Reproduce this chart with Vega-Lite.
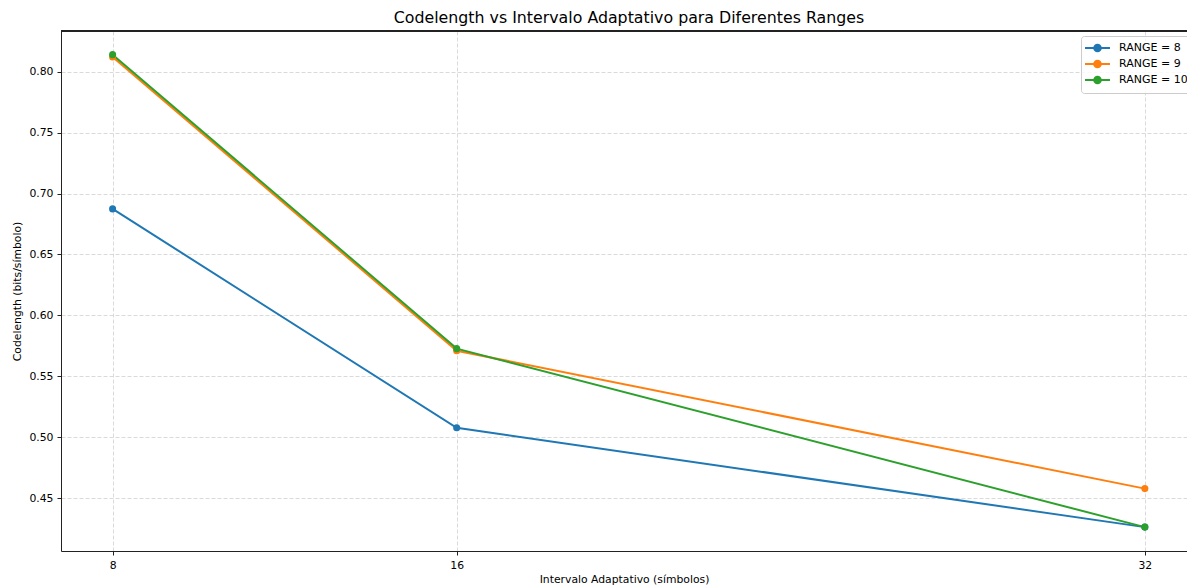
{
  "$schema": "https://vega.github.io/schema/vega-lite/v6.json",
  "autosize": {"type": "none"},
  "padding": {"left": 61, "top": 31, "right": 0, "bottom": 34},
  "width": 1126,
  "height": 520,
  "background": "white",
  "config": {
    "font": "DejaVu Sans",
    "view": {"stroke": null},
    "axis": {
      "labelFont": "DejaVu Sans",
      "titleFont": "DejaVu Sans",
      "labelFontSize": 10.8,
      "titleFontSize": 10.8,
      "labelColor": "#000",
      "titleColor": "#000",
      "titleFontWeight": "normal",
      "domainColor": "#222",
      "domainWidth": 1,
      "tickColor": "#222",
      "tickSize": 4,
      "gridColor": "#d0d0d0",
      "gridDash": [4, 2],
      "gridWidth": 0.8
    }
  },
  "title": {
    "text": "Codelength vs Intervalo Adaptativo para Diferentes Ranges",
    "font": "DejaVu Sans",
    "fontSize": 15.8,
    "fontWeight": "normal",
    "color": "#000",
    "anchor": "middle",
    "dx": 5,
    "offset": 4
  },
  "data": {
    "values": [
      {"range": 8, "intervalo": 8, "codelength": 0.6874},
      {"range": 8, "intervalo": 16, "codelength": 0.5077},
      {"range": 8, "intervalo": 32, "codelength": 0.4262},
      {"range": 9, "intervalo": 8, "codelength": 0.8121},
      {"range": 9, "intervalo": 16, "codelength": 0.5710},
      {"range": 9, "intervalo": 32, "codelength": 0.4578},
      {"range": 10, "intervalo": 8, "codelength": 0.8140},
      {"range": 10, "intervalo": 16, "codelength": 0.5727},
      {"range": 10, "intervalo": 32, "codelength": 0.4262}
    ]
  },
  "layer": [
    {
      "mark": {"type": "rule", "color": "#222", "strokeWidth": 1},
      "encoding": {
        "y": {"datum": 0.8334, "type": "quantitative", "scale": {"domain": [0.4066, 0.8334]}}
      }
    },
    {
      "mark": {"type": "line", "strokeWidth": 2, "point": {"filled": true, "size": 50, "opacity": 1}},
      "encoding": {
        "x": {
          "field": "intervalo",
          "type": "quantitative",
          "scale": {"domain": [6.8, 32.98], "nice": false, "zero": false},
          "axis": {
            "values": [8, 16, 32],
            "title": "Intervalo Adaptativo (símbolos)",
            "grid": true,
            "labelPadding": 4,
            "titlePadding": 4
          }
        },
        "y": {
          "field": "codelength",
          "type": "quantitative",
          "scale": {"domain": [0.4066, 0.8334], "nice": false, "zero": false},
          "axis": {
            "values": [0.45, 0.5, 0.55, 0.6, 0.65, 0.7, 0.75, 0.8],
            "format": ".2f",
            "title": "Codelength (bits/símbolo)",
            "grid": true,
            "labelPadding": 4,
            "titlePadding": 6
          }
        },
        "color": {
          "field": "range",
          "type": "nominal",
          "sort": [8, 9, 10],
          "scale": {"range": ["#1f77b4", "#ff7f0e", "#2ca02c"]},
          "legend": {
            "title": null,
            "orient": "none",
            "legendX": 1020,
            "legendY": 5,
            "labelExpr": "'RANGE = ' + datum.label",
            "labelFont": "DejaVu Sans",
            "labelFontSize": 11,
            "labelColor": "#000",
            "symbolType": "M-1.33,0H2.83M1.3,0A0.55,0.55 0 1 1 0.2,0A0.55,0.55 0 1 1 1.3,0",
            "symbolSize": 144,
            "symbolStrokeWidth": 2,
            "labelOffset": 19,
            "rowPadding": 0,
            "padding": 5,
            "strokeColor": "#cccccc",
            "fillColor": "rgba(255,255,255,0.8)",
            "cornerRadius": 3,
            "encode": {
              "symbols": {"update": {"fill": {"scale": "color", "field": "value"}}}
            }
          }
        }
      }
    }
  ]
}
